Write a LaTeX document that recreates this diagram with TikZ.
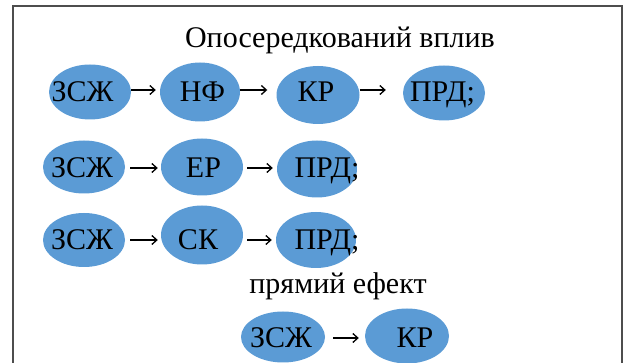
\documentclass[tikz,border=0pt]{standalone}
\usepackage{fontspec}
\setmainfont{Liberation Serif}
\usetikzlibrary{shapes.geometric,arrows.meta}
\definecolor{blobblue}{HTML}{5B9BD5}
\definecolor{framegray}{HTML}{4D4D4D}
% place a label with its baseline at the node centre, shifted by (dx,dy)
\newcommand\lbl[3]{\makebox[0pt]{\kern#1pt\raisebox{#2pt}[0pt][0pt]{#3}\kern-#1pt}}
\begin{document}
\begin{tikzpicture}[x=1pt,y=-1pt,
  blob/.style={ellipse,fill=blobblue,inner sep=0pt,text depth=0pt,text height=0pt,font=\fontsize{30}{32}\selectfont},
  flow/.style={line width=1.3pt,-{Straight Barb[length=5pt,width=9pt,line width=1.3pt]}},
  heading/.style={anchor=base,inner sep=0pt,font=\fontsize{30}{32}\selectfont}]
\useasboundingbox (0,0) rectangle (625,363);
\draw[framegray,line width=1.3pt] (13,364) -- (13,6) -- (622,6) -- (622,364);

\node[heading] (t1) at (340,48) {Опосередкований вплив};

% first chain
\node[blob,minimum width=82pt,minimum height=55pt] (a1) at (90,92) {\lbl{-7.5}{-10}{ЗСЖ}};
\node[blob,minimum width=80pt,minimum height=59pt] (a2) at (200,92) {\lbl{2.5}{-10}{НФ}};
\node[blob,minimum width=83pt,minimum height=58pt] (a3) at (318,95) {\lbl{-2}{-7}{КР}};
\node[blob,minimum width=82pt,minimum height=55pt] (a4) at (444,93) {\lbl{-1.5}{-9}{ПРД;}};
\coordinate (r1) at (0,90);
\draw[flow,shorten >=4pt] (a1.east |- r1) -- (a2.west |- r1);
\draw[flow,shorten >=9pt] (a2.east |- r1) -- (a3.west |- r1);
\draw[flow,shorten >=17pt] (a3.east |- r1) -- (a4.west |- r1);

% second chain
\node[blob,minimum width=82pt,minimum height=53pt] (b1) at (84,167) {\lbl{-2}{-11}{ЗСЖ}};
\node[blob,minimum width=82pt,minimum height=57pt] (b2) at (202,167) {\lbl{1.5}{-11}{ЕР}};
\node[blob,minimum width=80pt,minimum height=57pt] (b3) at (317,169) {\lbl{10}{-9}{ПРД;}};
\coordinate (r2) at (0,168);
\draw[flow,shorten <=5pt,shorten >=3pt] (b1.east |- r2) -- (b2.west |- r2);
\draw[flow,shorten <=4pt,shorten >=4pt] (b2.east |- r2) -- (b3.west |- r2);

% third chain
\node[blob,minimum width=82pt,minimum height=54pt] (c1) at (84,240) {\lbl{-2}{-10}{ЗСЖ}};
\node[blob,minimum width=82pt,minimum height=59pt] (c2) at (202,235) {\lbl{-4}{-15}{СК}};
\node[blob,minimum width=80pt,minimum height=56pt] (c3) at (316,240) {\lbl{11}{-10}{ПРД;}};
\coordinate (r3) at (0,240);
\draw[flow,shorten <=5pt,shorten >=3pt] (c1.east |- r3) -- (c2.west |- r3);
\draw[flow,shorten <=4pt,shorten >=4pt] (c2.east |- r3) -- (c3.west |- r3);

\node[heading] (t2) at (338,294) {прямий ефект};

% direct effect
\node[blob,minimum width=84pt,minimum height=51pt] (d1) at (283,337) {\lbl{-2}{-11}{ЗСЖ}};
\node[blob,minimum width=84pt,minimum height=55pt] (d2) at (407,336) {\lbl{8}{-12}{КР}};
\coordinate (r4) at (0,338);
\draw[flow,shorten <=8pt,shorten >=6pt] (d1.east |- r4) -- (d2.west |- r4);
\end{tikzpicture}
\end{document}
